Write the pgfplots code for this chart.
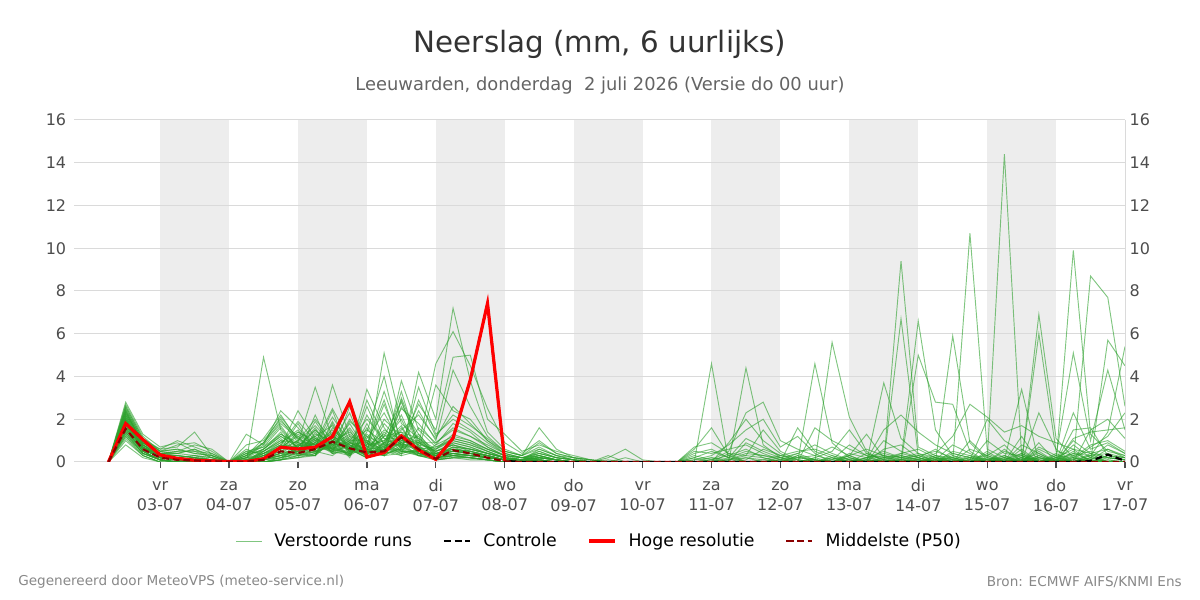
\documentclass[border=0pt]{standalone}
\usepackage{fontspec}
\setmainfont{DejaVu Sans}
\usepackage{pgfplots}
\usepackage{pgfplotstable}
\pgfplotsset{compat=1.18}
\definecolor{ensgreen}{RGB}{44,160,44}
\definecolor{band}{RGB}{237,237,237}
\definecolor{gridc}{RGB}{218,218,218}
\definecolor{tickc}{RGB}{77,77,77}
\definecolor{titlec}{RGB}{51,51,51}
\definecolor{subc}{RGB}{100,100,100}
\definecolor{footc}{RGB}{136,136,136}
\definecolor{medc}{RGB}{139,0,0}
\newcommand{\dl}{\rule{0pt}{8.5pt}}

\pgfplotstableread[header=false]{
6 0 0 0 0 0 0 0 0 0 0 0 0 0 0 0 0 0 0 0 0 0 0 0 0 0 0 0 0 0 0 0 0 0 0 0 0 0 0 0 0 0 0 0 0 0 0 0 0 0 0
12 1.8 2.2 1.5 2.6 1.9 1.3 2.4 2.0 1.6 2.8 1.1 2.1 1.7 2.3 1.4 2.5 1.9 0.8 2.2 1.6 2.0 1.2 2.7 1.8 1.5 2.3 1.9 1.4 2.1 2.4 1.7 1.0 2.2 1.8 2.6 1.5 2.0 1.3 2.4 1.9 1.6 2.1 1.8 2.5 1.4 2.0 1.7 2.3 1.2 1.9
18 0.7 0.9 0.5 1.1 0.6 0.4 0.8 0.7 0.5 1.3 0.3 0.8 0.6 0.9 0.5 1.0 0.7 0.2 0.8 0.6 0.7 0.4 1.2 0.6 0.5 0.9 0.7 0.4 0.8 1.0 0.6 0.3 0.9 0.7 1.1 0.5 0.8 0.4 0.9 0.7 0.5 0.8 0.6 1.0 0.4 0.7 0.6 0.9 0.3 0.7
24 0.2 0.3 0.1 0.5 0.2 0.1 0.4 0.3 0.1 0.7 0 0.3 0.2 0.4 0.1 0.6 0.2 0 0.3 0.2 0.3 0.1 0.5 0.2 0.1 0.4 0.3 0.1 0.2 0.5 0.2 0 0.4 0.3 0.6 0.1 0.3 0.1 0.4 0.2 0.1 0.3 0.2 0.5 0.1 0.2 0.2 0.4 0 0.3
30 0.1 0.3 0 0.6 0.2 0 0.4 0.1 0 0.9 0 0.2 0.1 0.5 0 0.7 0.1 0 0.3 0.1 0.2 0 0.8 0.1 0 0.4 0.2 0 0.1 0.6 0.1 0 0.3 0.2 1.0 0 0.2 0 0.5 0.1 0 0.2 0.1 0.4 0 0.1 0.1 0.3 0 0.2
36 0.1 0.2 0 0.4 0.3 0 0.6 0.1 0 0.5 0 0.1 0.2 0.8 0 1.4 0.1 0 0.2 0.1 0.3 0 0.9 0.1 0 0.3 0.1 0 0.1 0.4 0.2 0 0.2 0.1 0.7 0 0.1 0 0.5 0.2 0 0.1 0.1 0.6 0 0.1 0 0.2 0 0.1
42 0 0.1 0 0.3 0.1 0 0.2 0 0 0.4 0 0.1 0 0.6 0 0.3 0 0 0.1 0 0.2 0 0.5 0 0 0.2 0.1 0 0 0.3 0.1 0 0.1 0 0.4 0 0.1 0 0.2 0.1 0 0 0 0.3 0 0 0 0.1 0 0
48 0 0 0 0 0 0 0 0 0 0 0 0 0 0 0 0 0 0 0 0 0 0 0 0 0 0 0 0 0 0 0 0 0 0 0 0 0 0 0 0 0 0 0 0 0 0 0 0 0 0
54 0.1 0 0.3 0 0.2 0.5 0 0.1 0 1.3 0 0.2 0.4 0 0.1 0 0.3 0 0 0.6 0.1 0 0.2 0 0.4 0 0.1 0 0.8 0 0.2 0 0.1 0.5 0 0 0.3 0.1 0 0.2 0 0.4 0 0.1 0 0.3 0 0 0.2 0
60 0.3 0.1 0.6 0 0.9 0.4 0.2 0.5 0 0.8 4.9 0.3 0.7 0.1 0.4 0 1.1 0.2 0.5 0.3 0 0.6 0.4 0.1 0.9 0.2 0 0.5 1.0 0.3 0.1 0.4 0.2 0.7 0 0.3 0.6 0.1 0.2 0.8 0 0.5 0.3 0.1 0.4 0.9 0.2 0 0.6 0.1
66 0.8 0.4 1.2 0.2 1.9 0.6 0.3 1.0 0.1 2.4 1.5 0.7 1.3 0.3 0.9 0.1 2.2 0.5 1.1 0.6 0.2 1.4 0.8 0.3 1.8 0.4 0.1 0.9 2.0 0.5 0.3 0.7 0.4 1.6 0.1 0.6 1.2 0.2 0.5 1.7 0.1 1.0 0.6 0.3 0.8 2.1 0.4 0.1 1.3 0.2
72 0.5 0.9 0.7 0.4 1.2 1.0 0.6 0.3 0.8 1.6 0.6 2.4 0.9 0.5 1.4 0.2 1.0 0.8 0.4 1.3 0.7 0.3 1.9 0.5 1.1 0.6 0.2 1.5 0.9 0.4 0.8 1.2 0.3 0.6 0.5 1.8 0.7 0.4 1.0 0.6 0.3 0.9 1.4 0.2 0.7 1.1 0.5 0.3 0.8 0.6
78 1.0 0.6 1.5 0.3 0.8 2.0 0.9 0.5 1.2 0.7 0.4 1.1 3.5 0.6 0.9 0.3 1.7 0.5 1.3 0.8 0.4 0.6 1.0 1.9 0.7 0.3 1.4 0.5 0.8 1.1 0.6 0.4 2.2 0.7 0.9 0.5 1.6 0.3 0.8 1.2 0.5 0.7 1.0 0.4 1.5 0.6 0.9 0.3 0.7 1.1
84 0.6 1.2 0.8 1.6 0.5 1.0 2.5 0.7 0.4 1.4 0.9 0.6 1.1 3.6 0.5 1.8 0.8 0.3 1.0 0.6 1.3 0.9 0.5 0.7 2.1 1.0 0.4 0.8 1.5 0.6 1.2 0.9 0.5 2.4 0.7 1.1 0.4 1.0 0.6 1.7 0.8 0.5 1.3 0.9 0.6 1.0 0.4 1.9 0.7 0.8
90 0.4 0.8 1.3 0.9 0.3 0.6 1.0 1.8 0.5 0.7 2.9 0.4 0.6 1.2 0.8 0.3 1.5 0.9 0.2 1.1 0.5 2.3 0.7 0.4 0.9 1.4 0.6 0.3 0.8 2.0 0.5 0.7 1.0 0.4 1.6 0.6 0.9 0.3 1.2 0.5 0.8 1.9 0.4 0.6 1.0 0.7 2.6 0.5 0.3 0.9
96 1.0 0.3 0.6 1.5 0.8 0.2 2.0 0.5 1.2 0.4 0.7 3.4 0.3 0.9 0.5 1.3 0.2 0.6 1.8 0.4 0.8 0.3 1.1 2.6 0.5 0.7 0.2 1.4 0.4 0.9 0.6 0.3 1.0 2.9 0.5 0.2 0.8 1.6 0.4 0.7 0.3 1.2 0.6 0.9 0.2 0.5 1.0 0.4 2.2 0.6
102 0.7 1.4 0.4 0.9 3.3 0.6 1.1 0.3 0.8 2.0 0.5 1.6 5.1 0.4 1.2 0.7 0.9 2.7 0.3 0.6 1.0 0.4 2.3 0.8 0.5 1.3 0.6 4.0 0.9 0.3 0.7 1.8 0.4 1.1 0.6 0.8 2.9 0.5 0.3 1.0 0.7 0.4 1.5 0.6 0.9 0.3 0.5 1.2 0.8 0.4
108 1.2 0.8 2.6 0.5 1.0 1.5 0.7 3.0 0.4 1.2 0.9 0.6 1.8 0.5 2.8 0.3 1.1 0.7 3.8 0.9 1.4 0.6 0.8 2.2 1.0 0.5 1.3 0.7 2.5 0.4 1.6 0.9 0.6 1.1 3.3 0.8 0.5 1.2 0.7 2.0 0.4 0.9 1.0 0.6 1.7 0.8 0.3 1.4 0.5 2.9
114 0.5 0.9 1.3 0.3 0.7 2.2 0.4 1.0 0.6 0.8 2.7 0.3 1.1 0.5 0.9 4.2 0.4 0.7 1.5 0.3 0.6 3.5 0.8 0.4 1.2 0.5 0.9 0.3 1.8 0.6 0.4 1.0 2.4 0.5 0.7 0.3 1.3 0.6 0.8 0.4 1.6 0.5 0.9 2.9 0.3 0.7 0.5 1.1 0.4 0.6
120 0.2 0.5 0.3 0.8 0.1 1.1 0.4 0.3 0.2 0.6 1.5 0.2 0.4 0.3 0.9 2.0 0.2 0.5 0.7 0.1 0.4 1.3 4.6 0.3 0.2 0.6 0.4 0.1 0.8 0.3 0.2 0.5 1.0 3.6 0.3 0.2 0.4 0.7 0.1 0.3 0.9 0.2 0.5 1.2 0.3 0.1 0.4 0.6 0.2 0.3
126 0.3 0.8 0.4 1.2 0.2 2.6 0.5 0.7 0.3 1.0 4.9 0.4 0.6 0.9 1.5 7.2 0.3 0.8 1.1 0.2 0.5 2.0 6.1 0.4 0.3 1.3 0.6 0.2 1.8 0.5 0.4 0.9 4.3 2.4 0.6 0.3 0.7 1.0 0.2 0.5 1.6 0.4 0.8 2.2 0.5 0.3 0.6 1.1 0.4 0.7
132 0.4 0.6 0.3 1.0 0.2 1.8 0.5 0.4 0.2 0.8 5.0 0.3 0.5 0.7 1.2 3.8 0.3 0.6 0.9 0.2 0.4 1.5 4.5 0.3 0.2 1.0 0.5 0.2 1.4 0.4 0.3 0.7 2.6 2.0 0.4 0.2 0.6 0.8 0.1 0.4 1.2 0.3 0.5 1.7 0.4 0.2 0.5 0.9 0.3 0.6
138 0.3 0.4 0.2 0.6 0.1 1.0 0.3 0.2 0.1 0.5 2.0 0.2 0.3 0.4 0.8 1.4 0.2 0.4 0.6 0.1 0.3 0.9 2.5 0.2 0.1 0.6 0.3 0.1 0.7 0.3 0.2 0.4 1.2 1.0 0.3 0.1 0.4 0.5 0.1 0.2 0.7 0.2 0.3 1.1 0.2 0.1 0.3 0.5 0.2 0.4
144 0.1 0.2 0.1 0.3 0 0.5 0.1 0.1 0 0.2 1.3 0.1 0.1 0.2 0.4 0.6 0.1 0.2 0.3 0 0.1 0.4 0.9 0.1 0 0.3 0.1 0 0.3 0.1 0.1 0.2 0.5 0.4 0.1 0 0.2 0.2 0 0.1 0.3 0.1 0.1 0.5 0.1 0 0.1 0.2 0.1 0.2
150 0.1 0.1 0 0.2 0 0.3 0.1 0 0 0.1 0.5 0 0.1 0.1 0.2 0.3 0 0.1 0.2 0 0.1 0.2 0.4 0 0 0.2 0.1 0 0.1 0 0.1 0.1 0.3 0.2 0 0 0.1 0.1 0 0.1 0.2 0 0.1 0.3 0 0 0.1 0.1 0 0.1
156 0 0.2 0.1 0.4 0 0.6 0.1 0 0.2 0.3 0.8 0 0.1 0.5 0.2 1.6 0 0.3 0.1 0 0.2 0.4 1.0 0.1 0 0.3 0.2 0 0.6 0.1 0 0.2 0.7 0.3 0.1 0 0.2 0.4 0 0.1 0.5 0 0.2 0.9 0.1 0 0.1 0.3 0 0.2
162 0 0.1 0 0.2 0 0.3 0 0 0.1 0.1 0.5 0 0 0.2 0.1 0.6 0 0.1 0 0 0.1 0.2 0.4 0 0 0.1 0.1 0 0.3 0 0 0.1 0.3 0.1 0 0 0.1 0.2 0 0 0.2 0 0.1 0.4 0 0 0 0.1 0 0.1
168 0 0 0 0.1 0 0.2 0 0 0 0 0.3 0 0 0.1 0 0.2 0 0 0 0 0 0.1 0.2 0 0 0 0 0 0.1 0 0 0 0.1 0 0 0 0 0.1 0 0 0.1 0 0 0.2 0 0 0 0 0 0
174 0 0 0 0 0 0.1 0 0 0 0 0.1 0 0 0 0 0 0 0 0 0 0 0 0.1 0 0 0 0 0 0 0 0 0 0 0 0 0 0 0 0 0 0 0 0 0.1 0 0 0 0 0 0
180 0 0 0 0 0 0 0 0 0 0 0 0 0 0 0 0.3 0 0 0 0 0 0 0 0 0 0 0 0 0 0 0 0 0.1 0 0 0 0 0 0 0 0 0 0 0 0 0 0.2 0 0 0
186 0 0 0 0 0 0 0 0 0 0 0 0 0 0 0 0 0 0 0 0 0 0 0 0.2 0 0 0 0 0 0 0 0 0 0 0 0 0 0 0 0 0 0 0 0 0 0 0.6 0 0 0
192 0 0 0 0 0 0 0 0 0 0 0 0 0 0 0 0 0 0 0 0 0 0 0 0 0 0 0 0 0 0 0 0 0 0 0 0 0 0 0 0 0 0 0 0 0 0 0.1 0 0 0
198 0 0 0 0 0 0 0 0 0 0 0 0 0 0 0 0 0 0 0 0 0 0 0 0 0 0 0 0 0 0 0 0 0 0 0 0 0 0 0 0 0 0 0 0 0 0 0 0 0 0
204 0 0 0 0 0 0 0 0 0 0 0 0 0 0 0 0 0 0 0 0 0 0 0 0 0 0 0 0 0 0 0 0 0 0 0 0 0 0 0 0 0 0 0 0 0 0 0 0 0 0
210 0 0 0.7 0 0 0 0.2 0 0 0 0 0 0 0 0.6 0 0 0 0 0.1 0 0.5 0 0 0 0 0 0.3 0 0 0 0 0 0.2 0 0 0 0 0 0 0 0.1 0 0 0 0 0 0 0.4 0
216 0 0 0.9 0 0 0 0 4.6 0 0 0 0 0 0 1.6 0 0.1 0 0 0.3 0 0.4 0 0 0 0.2 0 0.1 0 0 0 0 0 0.5 0 0 0 0 0.1 0 0 0.2 0 0 0 0 0 0 0.6 0
222 0 0.2 0.4 0 0 0 0 0 0 0.9 0 0 0 0 0.3 0 0.5 0 0 0.8 0 0.6 0 0 0.1 0 0 0.3 0 0 0 0 0 0.2 0 0 0 0.1 0 0 0 0.1 0 0 0 0.4 0 0 0.2 0
228 0 0.5 0 0 0.2 0 0 0 0 2.0 0 0 4.4 0 0 0 2.3 0 0 1.5 0 0.8 0 0 0.3 0 0 0.6 0 0 0.1 0 0 0 0 0 0 0.4 0 0 0 0.2 0 0 0.9 0.3 0 0 1.1 0
234 0 0.3 0 0.1 0 0 0 0 0 1.0 0 0 0.8 0 0 0 2.8 0 0 2.0 0 0.4 0 0 1.5 0 0 0.2 0 0 0.6 0 0 0 0 0 0 0.3 0 0 0 0.1 0 0 0.5 0.2 0 0 0.7 0
240 0 0.1 0 0.3 0 0 0 0 0.2 0.4 0 0 0.2 0 0 0 1.0 0 0 0.7 0 0.1 0 0 0.5 0 0 0 0 0 0.3 0 0 0 0 0.1 0 0.2 0 0 0 0 0 0.1 0.2 0 0 0 0.3 0
246 0 0 0.3 0.5 0 0 0 1.6 0.4 0 0 0 0.1 0 0 0.2 0.6 0 0 1.2 0 0 0 0 0.1 0 0 0 0.3 0 0.2 0 0 0 0 0.4 0 0 0 0 0 0 0 0.2 0 0 0 0 0.1 0
252 0 0.1 0 0.6 0 0 4.6 0.5 0.1 0 0 0 0 0 0 0.1 0.3 0 1.6 0.4 0 0 0.2 0 0 0 0 0 0.1 0 0.1 0 0 0 0.2 0.8 0 0 0 0 0 0.1 0 0.3 0 0 0 0 0 0
258 5.6 0 0 0.3 0 0 0.9 0.2 0 0 0 0 0.1 0 0 0 0.1 0 1.0 0 0 0 0.5 0 0 0.2 0 0 0 0 0 0 0 0.1 0 0.4 0 0.3 0 0 0 0 0 0.7 0 0 0 0 0.2 0
264 2.1 0 0 0.1 0 0.3 0.2 0 0 0.1 0 0.4 0.3 0 0 0 0 0 0.6 0 0 0 1.5 0 0.2 0 0 0 0 0.1 0 0 0 0.8 0 0.1 0 0 0 0.3 0 0.2 0 0.3 0 0 0.1 0 0 0
270 0.5 0 0.1 0 0 1.3 0 0 0.2 0 0 0.2 0.6 0 0 0 0.1 0 0.3 0 0 0 0.4 0 0 0 0.2 0 0 0 0 0.1 0 0.3 0 0 0 0 0.2 0 0.1 0 0 0 0.4 0 0 0.1 0 0
276 0 0 1.5 0 0 0.2 0 3.7 0 0.1 0 0.4 0.3 0 1.0 0 0 0 0 0.2 0 0 0.1 0.6 0 0 0.3 0 0 0 0 0 0 0.2 0 0.1 0 0 0.5 0 0 0 0.2 0 0.1 0 0 0.3 0 0
282 0 0 2.2 0 9.4 0.1 0 1.1 0 0.3 0 0.2 0.1 0 0.5 0 6.7 0 0 0.4 0 0.1 0 0.8 0 0 0.2 0 0.1 0 0 0 0 0.3 0.1 0 0 0 0.2 0 0 0.4 0 0 0 0 0.1 0 0 0.2
288 0 0 1.4 0 0.7 6.6 0 0.4 0 0.1 0 0 0.2 5.0 0.2 0 0.3 0 0.1 0.6 0 0.3 0 0.2 0 0 0.1 0 0 0 0.1 0 0 0.1 0 0.2 0 0 0.4 0 0 0.2 0 0 0.1 0 0 0 0 0.3
294 0 0.2 0.8 0 0.3 1.5 0 0.2 0 0.4 0 0.1 0 2.8 0 0 0.5 0 0 0.2 0.1 0 0 0 0.3 0 0 0.1 0 0 0 0 0.2 0 0 0.6 0 0.1 0 0 0.1 0 0 0.2 0 0 0.3 0 0 0.1
300 0 0.1 0.4 0 0.2 0.3 5.9 0 0 1.2 0 0 0 2.7 0 0 0.2 0 0.1 0 0 0.4 0 0 0.1 0 0 0.8 0 0 0 0.2 0 0 0 0.1 0 0 0.3 0 0 0 0.5 0 0 0.1 0 0 0 0.2
306 0 0 0.2 10.7 0 0.1 0.9 0 0 2.7 0 0.1 0 0.5 0 0.3 0 0 0 0.2 0 0.2 0 0.1 0 0 0 0.4 0 0 0.1 0 0 0 1.0 0 0.2 0 0 0 0 0 0.3 0 0 0 0.1 0 0.6 0
312 0 0.1 0 0.6 0 2.0 0.1 0 0.3 2.1 0 0 0.2 0 0 0.1 0 0 1.0 0 0 0.3 0 0 0 0 0.2 0 0 0.1 0 0 0.4 0 0.2 0 0.1 0 0 0 0.1 0 0 0.5 0 0 0 0 0.3 0
318 0 14.4 0 0.2 0 1.0 0 0.1 0 1.4 0 0 0.1 0 0.3 0 0 0.2 0.4 0 0 0 0 0.5 0 0.1 0 0 0 0.2 0.1 0 0 0.6 0 0 0.3 0 0 0 0 0.2 0 0 0 0.1 0 0 0.8 0
324 0 0.3 0 0 0.1 0.5 0 3.4 0 1.7 0.2 0 0.4 0 0 0.8 0 0 0.3 0 0 0.1 0 0.2 0 0 0.6 0 0 0.1 0 0 0.3 0 0 0.2 0 0 0.1 0 0.4 0 0 0.2 0 0 0 1.2 0 0
330 0.6 0 6.9 0 0.2 0 6.0 0 0 1.2 0 0 0 2.3 0 0.4 0 0.1 0 0.2 0.3 0 0 0.1 0 0 0 0.5 0 0 0 0.2 0 0 0.7 0 0 0 0.4 0 0 0.1 0.3 0 0 0 0.9 0 0 0.2
336 0.2 0 1.1 0 0 0.1 0.5 0 0.3 0.9 0 0.1 0 0.6 0 0 0.2 0 0 0.1 0 0 0.2 0 0 0.4 0 0 0.1 0 0 0 0 0 0.3 0 0.1 0 0 0.2 0.1 0 0 0 0 0.3 0 0.2 0 0
342 0 9.9 0.2 0 0.4 0 0.3 0 5.1 0.6 0.2 0 1.5 0 0 2.3 0 0 0.1 0 0 0.8 0 0 0.3 0 0.1 0 0 1.1 0.2 0 0 0.5 0 0 0.4 0 0 0.1 0 0 1.0 0 0 0.2 0 0.6 0 0
348 0 1.3 0 8.7 0.3 0 0.5 0 1.0 0.4 0 0.2 1.6 0 0 0.6 0 0.1 0.3 0 0.4 0.2 0 0.1 0 0 0.7 0 0 1.4 0 0.3 0 0 0.2 0 0.1 1.5 0 0 0.1 0 0.4 0 0 0.8 0 0 0.2 0
354 0 0.5 0 7.7 1.4 0 0.2 0 4.3 0.6 0 0 0.3 0 5.7 0.9 0 0 0.4 0.1 0 0.2 0 0 0.3 0 1.2 0 0 1.5 0.2 0 0 0.1 0 0 0.6 2.0 0 0 0 0.3 0.2 0 0 1.0 0 0 0.8 0
360 0 0.3 0 2.6 5.4 0 0.1 0 1.5 0.2 0 0 0.1 0 4.5 0.4 0 0 0.2 0 0 0.1 0 0 0.2 0 2.3 0 0 1.6 0.1 0 0 0 0 0 0.3 1.1 0 0 0 0.2 0.1 0 0 0.5 0 0 0.4 0
}\ens

\begin{document}
\begin{tikzpicture}
\begin{axis}[
  at={(0pt,0pt)}, anchor=south west,
  scale only axis, width=788.25pt, height=256.5pt,
  xmin=-6, xmax=360, ymin=0, ymax=16,
  set layers,
  axis x line*=bottom, axis y line*=left,
  y axis line style={draw=none},
  x axis line style={draw=gridc, line width=0.75pt},
  xtick={24,48,...,360},
  xticklabels={\dl vr\\03-07, \dl za\\04-07, \dl zo\\05-07, \dl ma\\06-07, \dl di\\07-07, \dl wo\\08-07, \dl do\\09-07, \dl vr\\10-07, \dl za\\11-07, \dl zo\\12-07, \dl ma\\13-07, \dl di\\14-07, \dl wo\\15-07, \dl do\\16-07, \dl vr\\17-07},
  xticklabel style={align=center, font=\fontsize{12}{15.5}\selectfont, text=tickc, inner ysep=2pt, yshift=-6pt},
  ytick={0,2,...,16},
  yticklabel style={font=\fontsize{12}{14}\selectfont, text=tickc, inner xsep=1.2pt},
  /pgf/number format/assume math mode=true,
  ymajorgrids, grid style={draw=gridc, line width=0.75pt},
  tick align=outside,
  major tick length=4.5pt,
  xtick style={draw=tickc, line width=0.9pt},
  ytick style={draw=none},
  legend columns=4,
  legend cell align=left,
  legend style={draw=none, fill=none, at={(0.5,-0.231)}, anchor=center,
    font=\fontsize{13}{16}\selectfont,
    /tikz/every odd column/.append style={column sep=7pt},
    /tikz/every even column/.append style={column sep=21pt}},
  legend image code/.code={\draw[#1] (0pt,0pt) -- (19.5pt,0pt);},
]
\begin{pgfonlayer}{axis background}
\fill[band] (axis cs:24,0) rectangle (axis cs:48,16);
\fill[band] (axis cs:72,0) rectangle (axis cs:96,16);
\fill[band] (axis cs:120,0) rectangle (axis cs:144,16);
\fill[band] (axis cs:168,0) rectangle (axis cs:192,16);
\fill[band] (axis cs:216,0) rectangle (axis cs:240,16);
\fill[band] (axis cs:264,0) rectangle (axis cs:288,16);
\fill[band] (axis cs:312,0) rectangle (axis cs:336,16);
\end{pgfonlayer}

\addlegendimage{ensgreen, opacity=0.6, line width=0.7pt}
\addlegendentry{Verstoorde runs}
\addlegendimage{black, line width=2.2pt, dash pattern=on 5.5pt off 2.5pt}
\addlegendentry{Controle}
\addlegendimage{red, line width=2.4pt}
\addlegendentry{Hoge resolutie}
\addlegendimage{medc, line width=1.8pt, dash pattern=on 5.5pt off 2.5pt}
\addlegendentry{Middelste (P50)}

\pgfplotsinvokeforeach{1,...,50}{
  \addplot[ensgreen, opacity=0.6, line width=0.7pt, forget plot] table[x index=0, y index=#1] {\ens};
}

% Controle
\addplot[black, line width=1.7pt, dash pattern=on 5pt off 3pt, forget plot] coordinates {
(6,0) (12,1.8) (18,1.05) (24,0.33) (30,0.17) (36,0.08) (42,0.05) (48,0.02) (54,0.02) (60,0.15) (66,0.69) (72,0.61) (78,0.69) (84,1.19) (90,2.82) (96,0.23) (102,0.44) (108,1.22) (114,0.56) (120,0.12) (126,1.12) (132,3.84) (138,7.42) (144,0.05) (150,0) (156,0) (162,0) (168,0) (174,0) (180,0) (186,0) (192,0) (198,0) (204,0) (210,0) (216,0) (222,0) (228,0) (234,0) (240,0) (246,0) (252,0) (258,0) (264,0) (270,0) (276,0) (282,0) (288,0) (294,0) (300,0) (306,0) (312,0) (318,0) (324,0) (330,0) (336,0) (342,0) (348,0.05) (354,0.35) (360,0.05)
};
% Hoge resolutie
\addplot[red, line width=2.4pt, forget plot] coordinates {
(6,0) (12,1.8) (18,1.05) (24,0.33) (30,0.17) (36,0.08) (42,0.05) (48,0.02) (54,0.02) (60,0.15) (66,0.69) (72,0.61) (78,0.69) (84,1.19) (90,2.82) (96,0.23) (102,0.44) (108,1.22) (114,0.56) (120,0.12) (126,1.12) (132,3.84) (138,7.42) (144,0.05)
};
% Middelste
\addplot[medc, line width=1.6pt, dash pattern=on 5pt off 3pt, forget plot] coordinates {
(6,0) (12,1.55) (18,0.6) (24,0.2) (30,0.1) (36,0.07) (42,0.04) (48,0.01) (54,0.02) (60,0.1) (66,0.5) (72,0.42) (78,0.6) (84,0.95) (90,0.64) (96,0.44) (102,0.5) (108,1.15) (114,0.6) (120,0.15) (126,0.55) (132,0.4) (138,0.2) (144,0.03) (150,0) (156,0) (162,0) (168,0) (174,0) (180,0) (186,0) (192,0) (198,0) (204,0) (210,0) (216,0) (222,0) (228,0) (234,0) (240,0) (246,0) (252,0) (258,0) (264,0) (270,0) (276,0) (282,0) (288,0) (294,0) (300,0) (306,0) (312,0) (318,0) (324,0) (330,0) (336,0) (342,0) (348,0) (354,0) (360,0)
};
\end{axis}

\begin{axis}[
  at={(0pt,0pt)}, anchor=south west,
  scale only axis, width=788.25pt, height=256.5pt,
  xmin=-6, xmax=360, ymin=0, ymax=16,
  axis x line=none, axis y line*=right,
  y axis line style={draw=gridc, line width=0.75pt},
  ytick={0,2,...,16},
  ytick style={draw=none},
  yticklabel style={font=\fontsize{12}{14}\selectfont, text=tickc},
  /pgf/number format/assume math mode=true,
]
\addplot[draw=none, forget plot] coordinates {(0,0)};
\end{axis}

\node[font=\fontsize{22}{26}\selectfont, text=titlec] at (394.5pt,313.5pt) {Neerslag (mm, 6 uurlijks)};
\node[font=\fontsize{13.4}{16}\selectfont, text=subc] at (394.5pt,282pt) {Leeuwarden, donderdag\ \ 2 juli 2026 (Versie do 00 uur)};
\node[font=\fontsize{10.2}{12}\selectfont, text=footc, anchor=west, inner sep=0pt] at (-42pt,-90pt) {Gegenereerd door MeteoVPS (meteo-service.nl)};
\node[font=\fontsize{10.2}{12}\selectfont, text=footc, anchor=east, inner sep=0pt] at (831pt,-90pt) {Bron: ECMWF AIFS/KNMI Ens};
\pgfresetboundingbox
\useasboundingbox (-55.5pt,-103.5pt) rectangle (844.5pt,346.5pt);
\end{tikzpicture}
\end{document}
